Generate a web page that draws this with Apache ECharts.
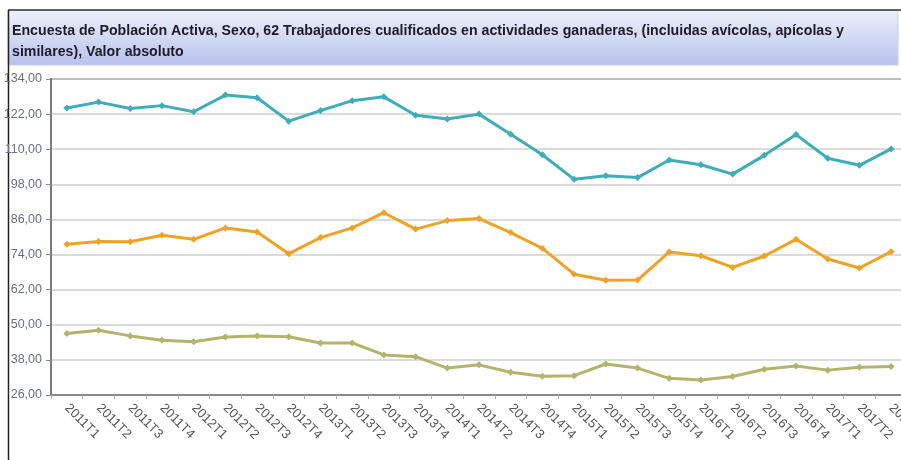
<!DOCTYPE html>
<html>
<head>
<meta charset="utf-8">
<script src="https://cdn.jsdelivr.net/npm/echarts@6/dist/echarts.min.js"></script>
<style>
  html, body { margin: 0; padding: 0; background: #ffffff; }
  #chart { width: 901px; height: 460px; }
</style>
</head>
<body>
<div id="chart"></div>
<script>
// Quarterly periods
const periods = [
  '2011T1','2011T2','2011T3','2011T4',
  '2012T1','2012T2','2012T3','2012T4',
  '2013T1','2013T2','2013T3','2013T4',
  '2014T1','2014T2','2014T3','2014T4',
  '2015T1','2015T2','2015T3','2015T4',
  '2016T1','2016T2','2016T3','2016T4',
  '2017T1','2017T2','2017T3'
];

// Ambos sexos
const ambosSexos = [
  124.1, 126.1, 123.9, 124.9, 122.8, 128.5, 127.6, 119.6,
  123.2, 126.6, 127.9, 121.6, 120.3, 122.0, 115.1, 108.1,
  99.7, 100.9, 100.3, 106.3, 104.7, 101.5, 107.9, 115.0,
  106.9, 104.5, 110.1
];

// Hombres
const hombres = [
  77.5, 78.5, 78.4, 80.6, 79.2, 83.1, 81.7, 74.3,
  79.8, 83.1, 88.3, 82.7, 85.6, 86.3, 81.5, 76.1,
  67.3, 65.2, 65.3, 74.9, 73.6, 69.6, 73.5, 79.2,
  72.5, 69.4, 75.0
];

// Mujeres
const mujeres = [
  47.0, 48.1, 46.2, 44.7, 44.2, 45.8, 46.2, 45.9,
  43.8, 43.8, 39.7, 39.1, 35.2, 36.3, 33.8, 32.4,
  32.6, 36.6, 35.2, 31.7, 31.1, 32.3, 34.8, 35.9,
  34.5, 35.5, 35.7
];

// Value axis ticks
const yMin = 26;
const yMax = 134;
const yStep = 12;

const titleLines = [
  'Encuesta de Población Activa, Sexo, 62 Trabajadores cualificados en actividades ganaderas, (incluidas avícolas, apícolas y',
  'similares), Valor absoluto'
];

const chart = echarts.init(document.getElementById('chart'), null, { renderer: 'canvas' });

function lineSeries(name, data, color) {
  return {
    name: name,
    type: 'line',
    data: data,
    symbol: 'diamond',
    symbolSize: 7,
    lineStyle: { color: color, width: 3 },
    itemStyle: { color: color },
    emphasis: { disabled: true },
    z: 3
  };
}

chart.setOption({
  animation: false,
  backgroundColor: '#ffffff',
  graphic: [
    {
      type: 'rect',
      shape: { x: 8, y: 10, width: 890, height: 55 },
      style: {
        fill: {
          type: 'linear', x: 0, y: 0, x2: 0, y2: 1,
          colorStops: [
            { offset: 0, color: '#eef1fb' },
            { offset: 1, color: '#b7c2ee' }
          ]
        },
        stroke: '#c9cede',
        lineWidth: 1
      },
      z: -1
    },
    {
      type: 'line',
      shape: { x1: 8, y1: 10, x2: 901, y2: 10 },
      style: { stroke: '#333333', lineWidth: 1.5 }
    },
    {
      type: 'line',
      shape: { x1: 8.5, y1: 10, x2: 8.5, y2: 460 },
      style: { stroke: '#222222', lineWidth: 1.5 }
    },
    {
      // condensed bold heading, two lines
      type: 'text',
      x: 12,
      y: 20,
      scaleX: 0.945,
      style: {
        text: titleLines.join('\n'),
        font: 'bold 15px "Liberation Sans", Arial, sans-serif',
        lineHeight: 21,
        fill: '#1c1c28'
      },
      z: 5
    }
  ],
  grid: {
    left: 51,
    top: 79,
    bottom: 65,
    right: -6,
    outerBoundsMode: 'none',
    containLabel: false,
    show: true,
    borderColor: '#8a8a8a',
    borderWidth: 2,
    backgroundColor: 'transparent'
  },
  xAxis: {
    type: 'category',
    data: periods,
    boundaryGap: true,
    axisLine: { show: true, lineStyle: { color: '#8a8a8a', width: 2 } },
    axisTick: { show: true, alignWithLabel: false, length: 4, lineStyle: { color: '#aaaaaa' } },
    axisLabel: {
      rotate: -45,
      interval: 0,
      margin: 11,
      color: '#555555',
      fontFamily: 'Liberation Sans, Arial, sans-serif',
      fontSize: 13
    },
    splitLine: { show: false }
  },
  yAxis: {
    type: 'value',
    min: yMin,
    max: yMax,
    interval: yStep,
    axisLine: { show: true, lineStyle: { color: '#7a7a7a', width: 2 } },
    axisTick: { show: true, length: 5, lineStyle: { color: '#888888' } },
    axisLabel: {
      margin: 9,
      color: '#6a6f7c',
      fontFamily: 'Liberation Sans, Arial, sans-serif',
      fontSize: 12.5,
      formatter: v => v.toFixed(2).replace('.', ',')
    },
    splitLine: { show: true, lineStyle: { color: '#cfcfcf', width: 1.5 } }
  },
  series: [
    lineSeries('Ambos sexos', ambosSexos, '#3fadb8'),
    lineSeries('Hombres', hombres, '#f0a224'),
    lineSeries('Mujeres', mujeres, '#b3b46c')
  ]
});
</script>
</body>
</html>
